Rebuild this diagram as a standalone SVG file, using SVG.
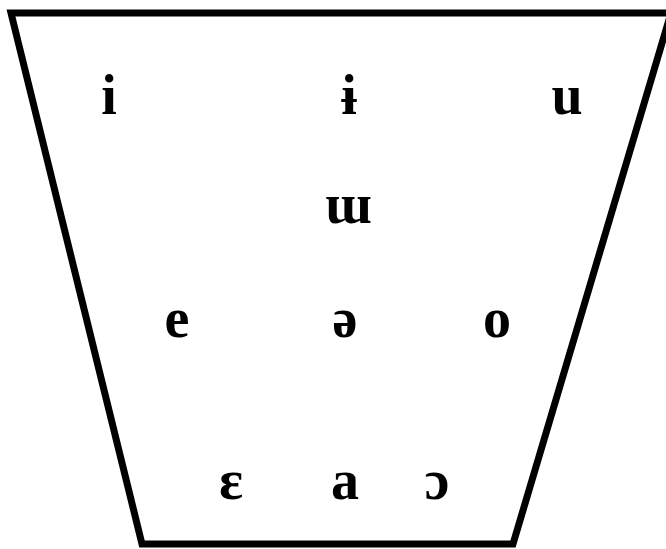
<svg xmlns="http://www.w3.org/2000/svg" width="666" height="549" viewBox="0 0 666 549">
<style>
.v{font-family:"Liberation Serif","Times New Roman",serif;font-weight:bold;font-size:56px;fill:#000;text-anchor:middle}
</style>
<rect width="666" height="549" fill="#fff"/>
<g id="chart">
<polygon points="11,13 671,13 513,544 142,544" fill="none" stroke="#000" stroke-width="7" stroke-linejoin="miter"/>
</g>
<g id="vowels">
<g id="v-i"><text class="v" x="109" y="114">i</text></g>
<g id="v-barred-i"><text class="v" x="349" y="114">ɨ</text></g>
<g id="v-u"><text class="v" x="567" y="114">u</text></g>
<g id="v-turned-m"><text class="v" x="348" y="223">ɯ</text></g>
<g id="v-e"><text class="v" x="177" y="337">e</text></g>
<g id="v-schwa"><text class="v" x="345" y="337">ə</text></g>
<g id="v-o"><text class="v" x="497" y="337">o</text></g>
<g id="v-open-e"><text class="v" x="231" y="499">ɛ</text></g>
<g id="v-a"><text class="v" x="345" y="499">a</text></g>
<g id="v-open-o"><text class="v" x="437" y="499">ɔ</text></g>
</g>
</svg>
